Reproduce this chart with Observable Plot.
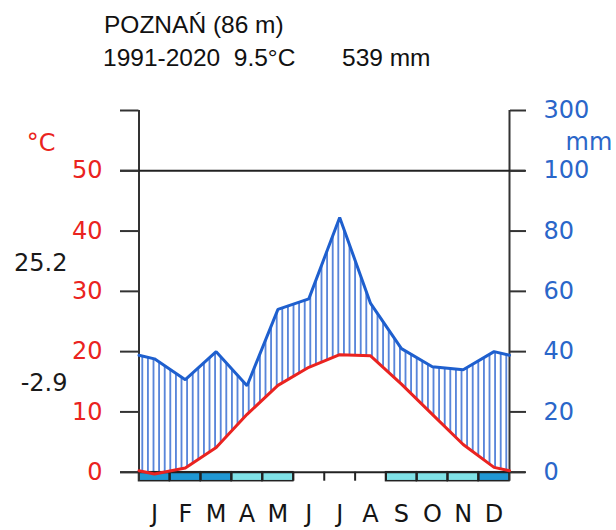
<!DOCTYPE html>
<html>
<head>
<meta charset="utf-8">
<script src="https://cdn.jsdelivr.net/npm/d3@7"></script>
<script src="https://cdn.jsdelivr.net/npm/@observablehq/plot@0.6"></script>
<style>
  html, body { margin: 0; padding: 0; background: #fff; }
  #wrap { position: relative; width: 616px; height: 530px; overflow: hidden; }
  .t { position: absolute; font-family: "Liberation Sans", Arial, sans-serif; font-size: 24.5px; line-height: 24px; color: #111; white-space: pre; }
  #chart { position: absolute; left: 0; top: 80px; }
</style>
</head>
<body>
<div id="wrap">
  <div class="t" id="t1" style="left:104px;top:13px"></div>
  <div class="t" id="t2" style="left:103px;top:46px"></div>
  <div class="t" id="t3" style="left:342px;top:46px"></div>
  <div id="chart"></div>
</div>
<script>
// ---- data ----
const station = "POZNAŃ";
const altitude = 86;
const period = "1991-2020";
const meanTemp = 9.5;
const annualPrecip = 539;
const maxWarmest = 25.2;
const minColdest = -2.9;

const months = ["J","F","M","A","M","J","J","A","S","O","N","D"];
const temperature = [-0.3, 0.7, 4.1, 9.6, 14.4, 17.4, 19.5, 19.3, 14.6, 9.6, 4.6, 0.8];
const precipitation = [37.6, 30.7, 40.0, 28.7, 54.0, 57.5, 84.5, 56.0, 41.0, 35.0, 34.0, 40.0];
const frost = ["sure","sure","sure","probable","probable","none","none","none","probable","probable","probable","sure"];

const tempTicks = [0, 10, 20, 30, 40, 50, 60];
const tempLabels = ["0","10","20","30","40","50",""];
const precipTicks = [0, 20, 40, 60, 80, 100, 300];

// ---- styles ----
const RED = "#ea2320";
const BLUE = "#1e5fce";
const BLUE_TXT = "#2a66c9";
const HATCH = "#3d72d4";
const FROST_SURE = "#1f97d3";
const FROST_PROB = "#7fe2e7";
const AXIS = "#222";
const FONT = "DejaVu Sans, sans-serif";

document.getElementById("t1").textContent = `${station} (${altitude} m)`;
document.getElementById("t2").textContent = `${period}  ${meanTemp.toFixed(1)}°C`;
document.getElementById("t3").textContent = `${annualPrecip} mm`;

// precipitation (mm) -> temperature-scale units (Walter-Lieth: 10°C = 20 mm, compressed above 100 mm)
const mmToScale = (p) => p <= 100 ? p / 2 : 50 + (p - 100) / 20;

// curve points: edges get the Dec/Jan mean, months at mid-points
const edgeT = (temperature[0] + temperature[11]) / 2;
const edgeP = (precipitation[0] + precipitation[11]) / 2;
const curve = [
  {x: 0, t: edgeT, p: edgeP},
  ...months.map((m, i) => ({x: i + 0.5, t: temperature[i], p: precipitation[i]})),
  {x: 12, t: edgeT, p: edgeP}
];
const frostData = months.map((m, i) => ({i, f: frost[i]})).filter(d => d.f !== "none");

const svg = Plot.plot({
  width: 616,
  height: 450,
  marginLeft: 138.5,
  marginRight: 107,
  marginTop: 30,
  marginBottom: 58.3,
  style: {fontFamily: FONT, fontSize: "24px", background: "white"},
  x: {domain: [0, 12], axis: null},
  y: {domain: [0, 60], axis: null},
  marks: [
    // hatched humid area
    Plot.areaY(curve, {x: "x", y1: "t", y2: d => mmToScale(d.p), fill: "url(#hatch)"}),
    // frost boxes
    Plot.rect(frostData, {x1: "i", x2: d => d.i + 1, y1: 0, y2: 0, insetBottom: -9,
      fill: d => d.f === "sure" ? FROST_SURE : FROST_PROB, stroke: AXIS, strokeWidth: 1.5}),
    Plot.ruleX(d3.range(1, 12), {y1: 0, y2: 0, insetBottom: -9, stroke: AXIS, strokeWidth: 2}),
    // axes frame
    Plot.ruleX([0, 12], {stroke: "#333", strokeWidth: 2, insetBottom: -9}),
    Plot.ruleY([0, 50], {stroke: AXIS, strokeWidth: 2, insetLeft: -18.5, insetRight: -16}),
    Plot.axisY(tempTicks, {anchor: "left", label: null, tickSize: 18.5, tickPadding: 18,
      tickFormat: (d) => tempLabels[tempTicks.indexOf(d)], stroke: "#333", strokeWidth: 2,
      fill: RED, fontSize: 24, fontFamily: FONT}),
    Plot.axisY(precipTicks.map(mmToScale), {anchor: "right", label: null, tickSize: 16, tickPadding: 18,
      tickFormat: (d) => String(precipTicks[precipTicks.map(mmToScale).indexOf(d)]), stroke: "#333", strokeWidth: 2,
      fill: BLUE_TXT, fontSize: 24, fontFamily: FONT}),
    Plot.axisX(months.map((m, i) => i + 0.5), {anchor: "bottom", label: null, tickSize: 0, tickPadding: 33,
      tickFormat: (d) => months[Math.floor(d)], fill: "#151515", fontSize: 24, fontFamily: FONT}),
    // curves
    Plot.line(curve, {x: "x", y: d => mmToScale(d.p), stroke: BLUE, strokeWidth: 3, strokeLinejoin: "miter"}),
    Plot.line(curve, {x: "x", y: "t", stroke: RED, strokeWidth: 3}),
    // unit labels and extremes
    Plot.text(["°C"], {frameAnchor: "top-left", lineAnchor: "middle", dx: -83.5, dy: 33, textAnchor: "end", fill: RED, fontSize: 24}),
    Plot.text(["mm"], {frameAnchor: "top-right", lineAnchor: "middle", dx: 56, dy: 32, textAnchor: "start", fill: BLUE_TXT, fontSize: 24}),
    Plot.text([maxWarmest], {text: d => String(d), frameAnchor: "top-left", lineAnchor: "middle", dx: -71.5, dy: 153, textAnchor: "end", fill: "#1a1a1a", fontSize: 24}),
    Plot.text([minColdest], {text: d => String(d), frameAnchor: "top-left", lineAnchor: "middle", dx: -71.5, dy: 273, textAnchor: "end", fill: "#1a1a1a", fontSize: 24})
  ]
});

const defs = d3.select(svg).insert("defs", ":first-child");
const pat = defs.append("pattern")
  .attr("id", "hatch")
  .attr("patternUnits", "userSpaceOnUse")
  .attr("x", 139.5)
  .attr("y", 0)
  .attr("width", 5.6)
  .attr("height", 10);
pat.append("rect").attr("width", 5.6).attr("height", 10).attr("fill", "white");
pat.append("line").attr("x1", 2.8).attr("x2", 2.8).attr("y1", 0).attr("y2", 10)
  .attr("stroke", HATCH).attr("stroke-width", 1.6);

document.getElementById("chart").appendChild(svg);
</script>
</body>
</html>
